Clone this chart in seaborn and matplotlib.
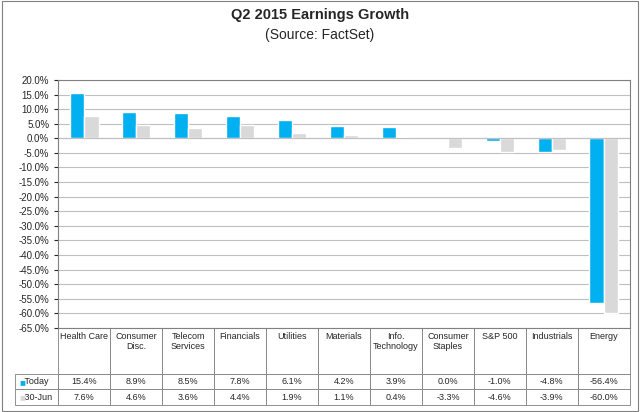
import numpy as np
import pandas as pd
import matplotlib
matplotlib.use("Agg")
import matplotlib.pyplot as plt
import seaborn as sns
from matplotlib.ticker import MultipleLocator, FuncFormatter

sectors = ["Health Care", "Consumer\nDisc.", "Telecom\nServices", "Financials", "Utilities",
           "Materials", "Info.\nTechnology", "Consumer\nStaples", "S&P 500", "Industrials", "Energy"]
today = [15.4, 8.9, 8.5, 7.8, 6.1, 4.2, 3.9, 0.0, -1.0, -4.8, -56.4]
jun30 = [7.6, 4.6, 3.6, 4.4, 1.9, 1.1, 0.4, -3.3, -4.6, -3.9, -60.0]
series = ["Today", "30-Jun"]
colors = ["#00B0F0", "#D9D9D9"]

df = pd.DataFrame({
    "sector": sectors * 2,
    "value": today + jun30,
    "series": [series[0]] * len(sectors) + [series[1]] * len(sectors),
})

sns.set_style("white")
plt.rcParams["font.family"] = ["Liberation Sans", "DejaVu Sans"]

fig = plt.figure(figsize=(6.4, 4.12), dpi=100)
ax = fig.add_axes([0.091, 0.204, 0.893, 0.602])
sns.barplot(data=df, x="sector", y="value", hue="series", palette=colors, saturation=1,
            order=sectors, hue_order=series, width=0.55, ax=ax, legend=False)

ax.set_ylim(-65, 20)
ax.set_xlim(-0.5, len(sectors) - 0.5)
ax.yaxis.set_major_locator(MultipleLocator(5))
ax.yaxis.set_major_formatter(FuncFormatter(lambda v, p: f"{v:.1f}%"))
ax.tick_params(axis="y", labelsize=7, length=3, left=True)
ax.set_xticks([])
ax.set_xlabel("")
ax.set_ylabel("")
ax.grid(axis="y", color="#BFBFBF", linewidth=0.8)
ax.set_axisbelow(True)
ax.axhline(0, color="#BFBFBF", linewidth=0.8)
for s in ax.spines.values():
    s.set_color("#808080")
    s.set_linewidth(0.8)

fig.text(0.5, 0.955, "Q2 2015 Earnings Growth", ha="center", fontsize=10.5, fontweight="bold")
fig.text(0.5, 0.905, "(Source: FactSet)", ha="center", fontsize=10)

# data table under the axes
header = [""] + [""] * len(sectors)
row1 = ["   Today"] + [f"{v:.1f}%" for v in today]
row2 = ["   30-Jun"] + [f"{v:.1f}%" for v in jun30]
lab_w = 43 / 572
col_w = [lab_w] + [1 / len(sectors)] * len(sectors)
tbl = ax.table(cellText=[header, row1, row2], colWidths=col_w, cellLoc="left",
               bbox=[-lab_w, -0.31, 1 + lab_w, 0.31])
tbl.auto_set_font_size(False)
tbl.set_fontsize(6.5)
for (r, c), cell in tbl.get_celld().items():
    cell.set_edgecolor("#808080")
    cell.set_linewidth(0.6)
    cell.PAD = 0.04
    cell.set_height(0.6 if r == 0 else 0.2)
    if r == 0 and c == 0:
        cell.set_edgecolor("white")
    if c > 0 and r > 0:
        cell.get_text().set_ha("center")

# header labels, top aligned
for i, name in enumerate(sectors):
    ax.text(i, -66.5, name, ha="center", va="top", fontsize=6.5, linespacing=1.1)

fig.text(0.03, 0.072, "■", color=colors[0], fontsize=7, va="center")
fig.text(0.03, 0.036, "■", color=colors[1], fontsize=7, va="center")

fig.patches.append(plt.Rectangle((0.003, 0.003), 0.994, 0.994, transform=fig.transFigure,
                                 fill=False, edgecolor="#808080", linewidth=0.8))
fig.savefig("out.png", dpi=100)
